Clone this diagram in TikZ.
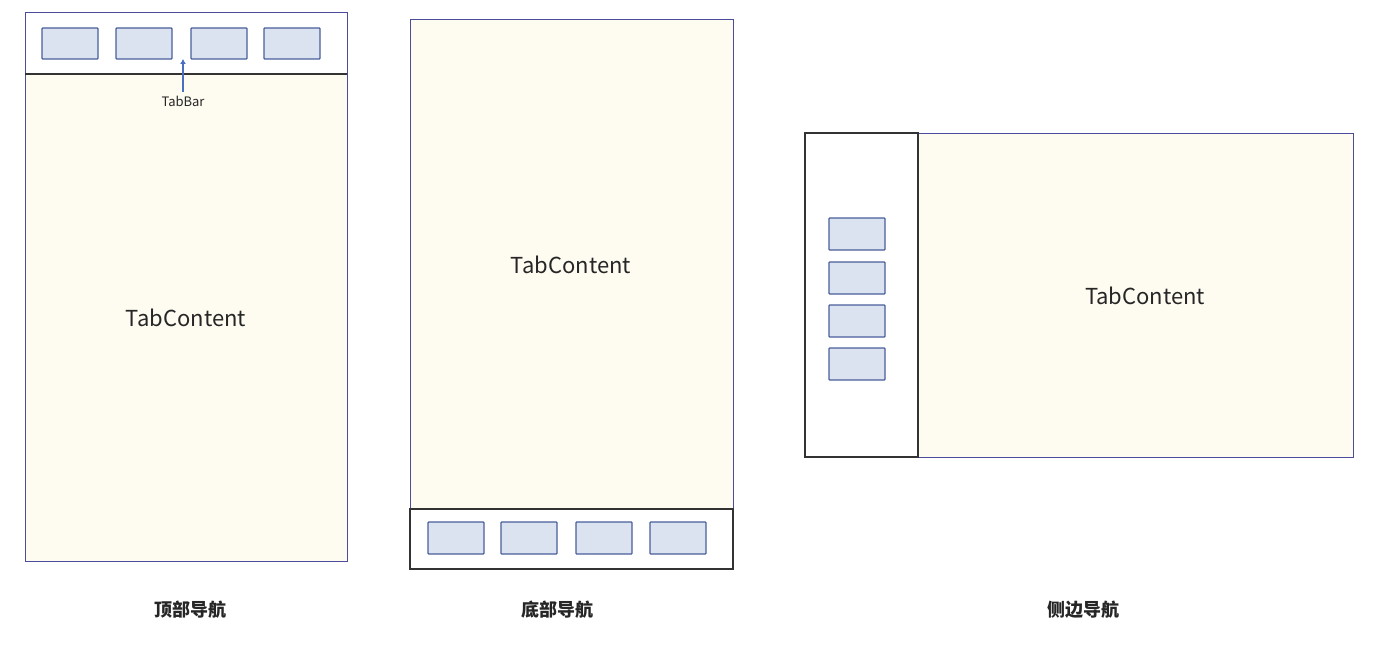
\documentclass[tikz,border=0pt]{standalone}
\usepackage{fontspec}
\setmainfont{Noto Sans CJK SC}
\usetikzlibrary{arrows.meta}
\begin{document}
\begin{tikzpicture}[x=1pt,y=-1pt,
  panel/.style={draw=blue!45!black!70,line width=1pt,fill=cream},
  bar/.style={draw=black!80,line width=1.2pt,fill=white},
  tab/.style={draw=tabblue,line width=1.2pt,fill=tabfill,rounded corners=0.8pt},
  big/.style={font=\fontsize{22}{26}\selectfont,text=black!85},
  navlabel/.style={font=\fontsize{18}{22}\selectfont\bfseries,text=black!85}]
\definecolor{cream}{HTML}{FEFCF0}
\definecolor{tabblue}{HTML}{4A5E9A}
\definecolor{tabfill}{HTML}{DCE3F0}
\definecolor{arr}{HTML}{4A6FC0}
\useasboundingbox (0,0) rectangle (1380,650);
% panel 1
\draw[panel] (25,13) rectangle (347,561);
\fill[white] (25.5,13.5) rectangle (346.5,74);
\draw[black!80,line width=1.2pt] (25,74) -- (347,74);
\foreach \a in {42,116,191,264}{\draw[tab] (\a,28) rectangle ++(56,31);}
\node[font=\fontsize{13}{15}\selectfont,text=black!85] (tb) at (183,101) {TabBar};
\coordinate (tbt) at (183,59);
\draw[arr,line width=1.5pt,-{Latex[length=5pt,width=6pt]}] (tb.north) -- (tbt);
\node[big] (c1) at (186,318) {TabContent};
\node[navlabel] (l1) at (190,610) {顶部导航};
% panel 2
\draw[panel] (410,20) rectangle (733,569);
\draw[bar] (410,509) rectangle (733,569);
\foreach \a in {428,501,576,650}{\draw[tab] (\a,522) rectangle ++(56,32);}
\node[big] (c2) at (571,265) {TabContent};
\node[navlabel] (l2) at (557,610) {底部导航};
% panel 3
\draw[panel] (805,133) rectangle (1353,457);
\draw[bar] (805,133) rectangle (918,457);
\foreach \b in {218,262,305,348}{\draw[tab] (829,\b) rectangle ++(56,32);}
\node[big] (c3) at (1145,296) {TabContent};
\node[navlabel] (l3) at (1083,610) {侧边导航};
\end{tikzpicture}
\end{document}
